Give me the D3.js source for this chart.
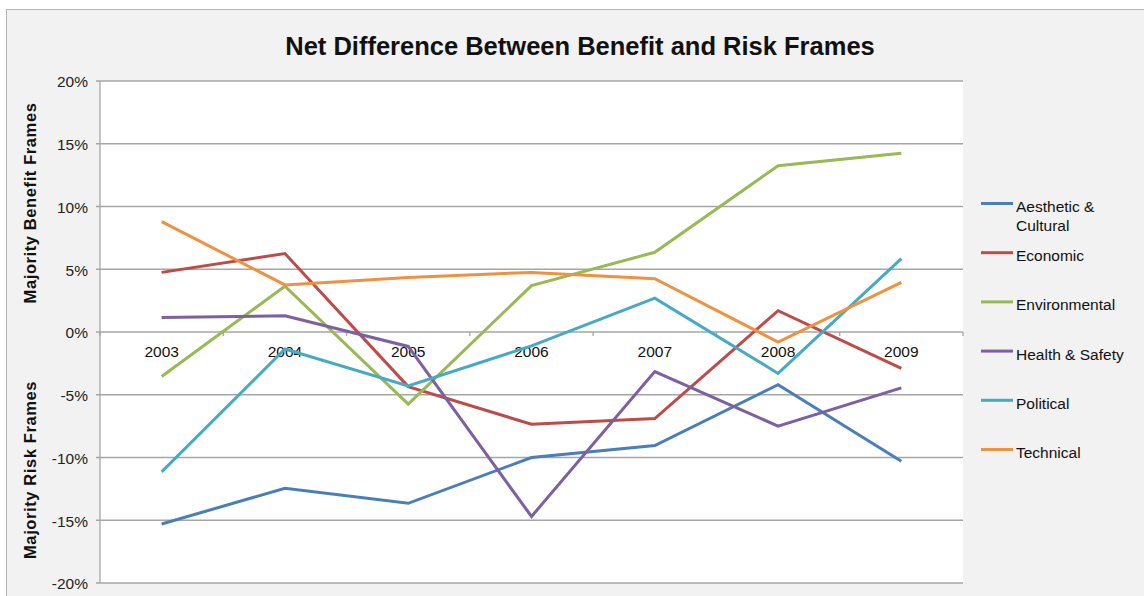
<!DOCTYPE html>
<html>
<head>
<meta charset="utf-8">
<script src="https://cdn.jsdelivr.net/npm/d3@7"></script>
<style>
  body { margin: 0; background: #fff; }
  svg { display: block; font-family: "Liberation Sans", Arial, sans-serif; }
</style>
</head>
<body>
<div id="chart"></div>
<script>
// data
const years = ['2003', '2004', '2005', '2006', '2007', '2008', '2009'];
const aesthetic = [-15.3, -12.45, -13.65, -10.0, -9.05, -4.2, -10.3];
const economic = [4.75, 6.25, -4.35, -7.35, -6.9, 1.7, -2.9];
const environmental = [-3.55, 3.65, -5.75, 3.7, 6.35, 13.25, 14.25];
const healthSafety = [1.15, 1.3, -1.15, -14.7, -3.15, -7.5, -4.45];
const political = [-11.15, -1.35, -4.3, -1.1, 2.7, -3.3, 5.85];
const technical = [8.8, 3.75, 4.35, 4.75, 4.25, -0.8, 3.95];
const yTicks = [20, 15, 10, 5, 0, -5, -10, -15, -20];

const series = [
  { name: 'Aesthetic & Cultural', lines: ['Aesthetic &', 'Cultural'], values: aesthetic, color: '#4a7ebb' },
  { name: 'Economic', lines: ['Economic'], values: economic, color: '#be4b48' },
  { name: 'Environmental', lines: ['Environmental'], values: environmental, color: '#98b954' },
  { name: 'Health & Safety', lines: ['Health & Safety'], values: healthSafety, color: '#7d60a0' },
  { name: 'Political', lines: ['Political'], values: political, color: '#46aac5' },
  { name: 'Technical', lines: ['Technical'], values: technical, color: '#f0913f' }
];

const W = 1144, H = 596;
const plot = { left: 100, right: 963, top: 81, bottom: 583 };

const svg = d3.select('#chart').append('svg')
  .attr('width', W)
  .attr('height', H);

// chart background + border
svg.append('rect')
  .attr('x', 6.5).attr('y', 9.5)
  .attr('width', W + 20).attr('height', H + 20)
  .attr('fill', '#f2f2f2')
  .attr('stroke', '#b5b5b5');

svg.append('rect')
  .attr('x', plot.left).attr('y', plot.top)
  .attr('width', plot.right - plot.left).attr('height', plot.bottom - plot.top)
  .attr('fill', '#fff');

const x = d3.scaleBand()
  .domain(years)
  .range([plot.left, plot.right]);

const y = d3.scaleLinear()
  .domain([-20, 20])
  .range([plot.bottom, plot.top]);

// gridlines
const g = svg.append('g');
g.selectAll('.grid').data(yTicks).enter().append('line')
  .attr('x1', plot.left - 4).attr('x2', plot.right)
  .attr('y1', d => y(d)).attr('y2', d => y(d))
  .attr('stroke', '#a6a6a6')
  .attr('stroke-width', 1.3);

// left axis line
g.append('line')
  .attr('x1', plot.left).attr('x2', plot.left)
  .attr('y1', plot.top).attr('y2', plot.bottom)
  .attr('stroke', '#a6a6a6')
  .attr('stroke-width', 1.3);

// y tick labels
g.selectAll('.ylab').data(yTicks).enter().append('text')
  .attr('x', plot.left - 12)
  .attr('y', d => y(d) + 1)
  .attr('dy', '0.35em')
  .attr('text-anchor', 'end')
  .style('font-size', '15.5px')
  .attr('fill', '#222')
  .text(d => d + '%');

// x axis at zero with ticks at band edges
const xEdges = years.map(d => x(d)).concat([plot.right]);
g.selectAll('.xtick').data(xEdges).enter().append('line')
  .attr('x1', d => d).attr('x2', d => d)
  .attr('y1', y(0)).attr('y2', y(0) + 4)
  .attr('stroke', '#a6a6a6')
  .attr('stroke-width', 1.3);

g.selectAll('.xlab').data(years).enter().append('text')
  .attr('x', d => x(d) + x.bandwidth() / 2)
  .attr('y', y(0) + 20)
  .attr('dy', '0.35em')
  .attr('text-anchor', 'middle')
  .style('font-size', '15.5px')
  .attr('fill', '#111')
  .text(d => d);

// series lines
const line = d3.line()
  .x((d, i) => x(years[i]) + x.bandwidth() / 2)
  .y(d => y(d));

svg.selectAll('.series').data(series).enter().append('path')
  .attr('d', d => line(d.values))
  .attr('fill', 'none')
  .attr('stroke', d => d.color)
  .attr('stroke-width', 3)
  .attr('stroke-linejoin', 'miter');

// title
svg.append('text')
  .attr('x', 580).attr('y', 55)
  .attr('text-anchor', 'middle')
  .style('font-size', '25.5px')
  .style('font-weight', 'bold')
  .attr('fill', '#111')
  .text('Net Difference Between Benefit and Risk Frames');

// y axis titles
svg.append('text')
  .attr('transform', 'translate(36,203) rotate(-90)')
  .attr('text-anchor', 'middle')
  .style('font-size', '16.5px')
  .style('font-weight', 'bold')
  .style('letter-spacing', '0.6px')
  .attr('fill', '#111')
  .text('Majority Benefit Frames');

svg.append('text')
  .attr('transform', 'translate(36,470) rotate(-90)')
  .attr('text-anchor', 'middle')
  .style('font-size', '16.5px')
  .style('font-weight', 'bold')
  .style('letter-spacing', '0.6px')
  .attr('fill', '#111')
  .text('Majority Risk Frames');

// legend
const legend = svg.append('g');
const item = legend.selectAll('.item').data(series).enter().append('g')
  .attr('transform', (d, i) => 'translate(981,' + (203.5 + i * 49.2) + ')');

item.append('line')
  .attr('x1', 0).attr('x2', 32)
  .attr('stroke', d => d.color)
  .attr('stroke-width', 3);

item.append('text')
  .attr('x', 35)
  .style('font-size', '15.5px')
  .attr('fill', '#111')
  .selectAll('tspan').data(d => d.lines).enter().append('tspan')
  .attr('x', 35)
  .attr('y', (d, i) => 3 + i * 19)
  .attr('dy', '0.35em')
  .text(d => d);
</script>
</body>
</html>
